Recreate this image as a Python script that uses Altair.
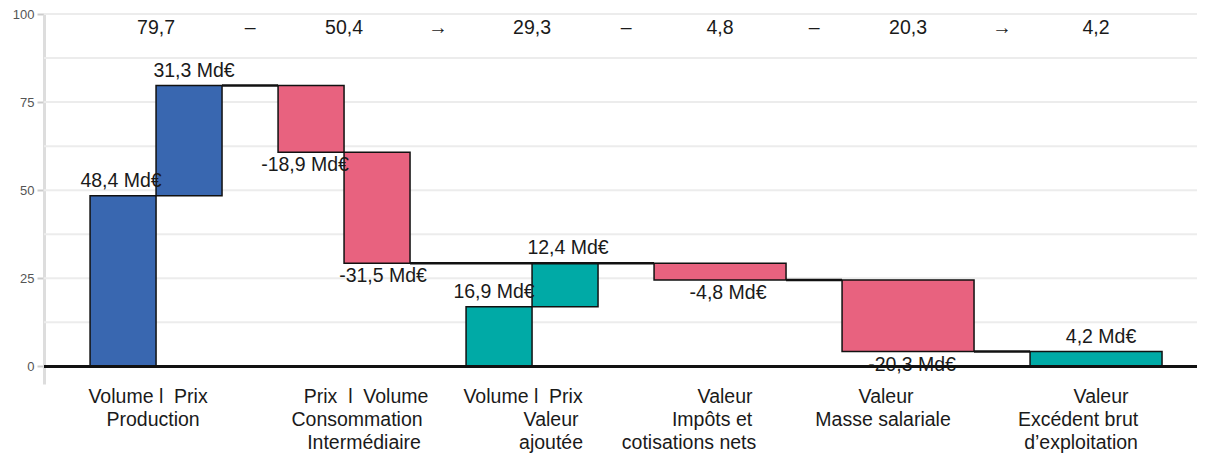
import altair as alt
import pandas as pd

# ---------------- data ----------------
bar_group = [0, 0, 1, 1, 2, 2, 3, 4, 5]
bar_side = [-1, 1, -1, 1, -1, 1, 0, 0, 0]          # left half, right half, full
bar_start = [0, 48.4, 79.7, 60.8, 0, 16.9, 29.3, 24.5, 0]
bar_delta = [48.4, 31.3, -18.9, -31.5, 16.9, 12.4, -4.8, -20.3, 4.2]
bar_kind = ["prod", "prod", "neg", "neg", "va", "va", "neg", "neg", "va"]

connector_pairs = [(1, 2), (3, 6), (6, 7), (7, 8)]

top_text = ["79,7", "–", "50,4", "→", "29,3", "–", "4,8", "–", "20,3", "→", "4,2"]

NB = "\u00a0"
cat_lines = [
    ["Volume l" + NB * 2 + "Prix", "Production"],
    ["Prix" + NB * 2 + "l" + NB * 2 + "Volume", "Consommation", "Intermédiaire"],
    ["Volume l" + NB * 2 + "Prix", "Valeur", "ajoutée"],
    ["Valeur", "Impôts et", "cotisations nets"],
    ["Valeur", "Masse salariale"],
    ["Valeur", "Excédent brut", "d’exploitation"],
]

grid_values = [0, 12.5, 25, 37.5, 50, 62.5, 75, 87.5, 100]
tick_values = [0, 25, 50, 75, 100]

# ---------------- style ----------------
FONT = "Liberation Sans"
FS = 19.5
W, H = 1153, 370
STEP = 188.0
HALF = 0.351
X_DOMAIN = [-0.596, -0.596 + W / STEP]
Y_DOMAIN = [-5, 100]
COLORS = {"prod": "#3967B0", "neg": "#E8627F", "va": "#00AAA6"}
# horizontal nudges (px) of the category label lines and of the value labels
line_dx = [[-8, -3], [22, 13, 20], [-9, 19, 19], [5, -8, -31], [-22, -25], [5, -18, -15]]
value_dx = [-2, 5, -6, 6, -5, 3, 8, 4, 5]


def fmt(v):
    return f"{v:.1f}".replace(".", ",") + " Md€"


rows = []
for i, (g, s, st, d, k) in enumerate(zip(bar_group, bar_side, bar_start, bar_delta, bar_kind)):
    if s == -1:
        x0, x1 = g - HALF, g
    elif s == 1:
        x0, x1 = g, g + HALF
    else:
        x0, x1 = g - HALF, g + HALF
    end = st + d
    rows.append(dict(x0=x0, x1=x1, xc=(x0 + x1) / 2 + value_dx[i] / STEP, y0=st, y1=end,
                     top=max(st, end), bottom=min(st, end), kind=k,
                     label=fmt(d), pos=d >= 0))
bars = pd.DataFrame(rows)

conn = pd.DataFrame([
    dict(x0=bars.loc[a, "x1"], x1=bars.loc[b, "x0"], y=bars.loc[a, "y1"])
    for a, b in connector_pairs
])

top_df = pd.DataFrame(dict(x=[i * 0.5 for i in range(len(top_text))], t=top_text))

cat_rows = []
for g, lines in enumerate(cat_lines):
    for j, t in enumerate(lines):
        cat_rows.append(dict(x=g + line_dx[g][j] / STEP, line=j, t=t))
cat_df = pd.DataFrame(cat_rows)
grid_df = pd.DataFrame(dict(y=grid_values))

xs = alt.Scale(domain=X_DOMAIN, nice=False, zero=False)
ys = alt.Scale(domain=Y_DOMAIN, nice=False, zero=False)

grid = alt.Chart(grid_df).mark_rule(color="#ececec", strokeWidth=2).encode(
    y=alt.Y("y:Q", scale=ys, axis=alt.Axis(
        values=tick_values, grid=False, title=None,
        domainColor="#dddddd", domainWidth=3,
        tickColor="#cccccc", tickWidth=2, tickSize=7,
        labelColor="#555555", labelFontSize=13, labelFont=FONT, labelPadding=3)),
    x=alt.value(0), x2=alt.value(W),
)

bar_layer = alt.Chart(bars).mark_rect(stroke="#111111", strokeWidth=1.5).encode(
    x=alt.X("x0:Q", scale=xs, axis=None),
    x2="x1:Q",
    y=alt.Y("y0:Q", scale=ys),
    y2="y1:Q",
    color=alt.Color("kind:N", legend=None,
                    scale=alt.Scale(domain=list(COLORS.keys()), range=list(COLORS.values()))),
)

conn_layer = alt.Chart(conn).mark_rule(color="#111111", strokeWidth=2.5).encode(
    x=alt.X("x0:Q", scale=xs, axis=None), x2="x1:Q",
    y=alt.Y("y:Q", scale=ys),
)

lab_pos = alt.Chart(bars[bars.pos]).mark_text(
    font=FONT, fontSize=FS, color="#1a1a1a", baseline="bottom", dy=-5
).encode(x=alt.X("xc:Q", scale=xs, axis=None), y=alt.Y("top:Q", scale=ys), text="label:N")

lab_neg = alt.Chart(bars[~bars.pos]).mark_text(
    font=FONT, fontSize=FS, color="#1a1a1a", baseline="top", dy=4
).encode(x=alt.X("xc:Q", scale=xs, axis=None), y=alt.Y("bottom:Q", scale=ys), text="label:N")

top_layer = alt.Chart(top_df).mark_text(
    font=FONT, fontSize=FS, color="#1a1a1a", baseline="middle"
).encode(x=alt.X("x:Q", scale=xs, axis=None), y=alt.value(14), text="t:N")

cat_layers = [
    alt.Chart(cat_df[cat_df.line == j]).mark_text(
        font=FONT, fontSize=FS, color="#1a1a1a", baseline="top", dy=4 + 23 * j
    ).encode(x=alt.X("x:Q", scale=xs, axis=None), y=alt.value(H), text="t:N")
    for j in range(3)
]

base_layer = alt.Chart(grid_df.head(1)).mark_rule(color="#111111", strokeWidth=3).encode(
    y=alt.datum(0, scale=ys), x=alt.value(0), x2=alt.value(W),
)

chart = alt.layer(
    grid, bar_layer, conn_layer, lab_pos, lab_neg, top_layer, *cat_layers, base_layer
).properties(
    width=W, height=H,
    padding={"left": 36, "top": 6, "right": 0, "bottom": 75},
    autosize=alt.AutoSizeParams(type="none"),
).configure_view(stroke=None)

chart.save("out.html", embed_options={"renderer": "svg", "actions": False})
